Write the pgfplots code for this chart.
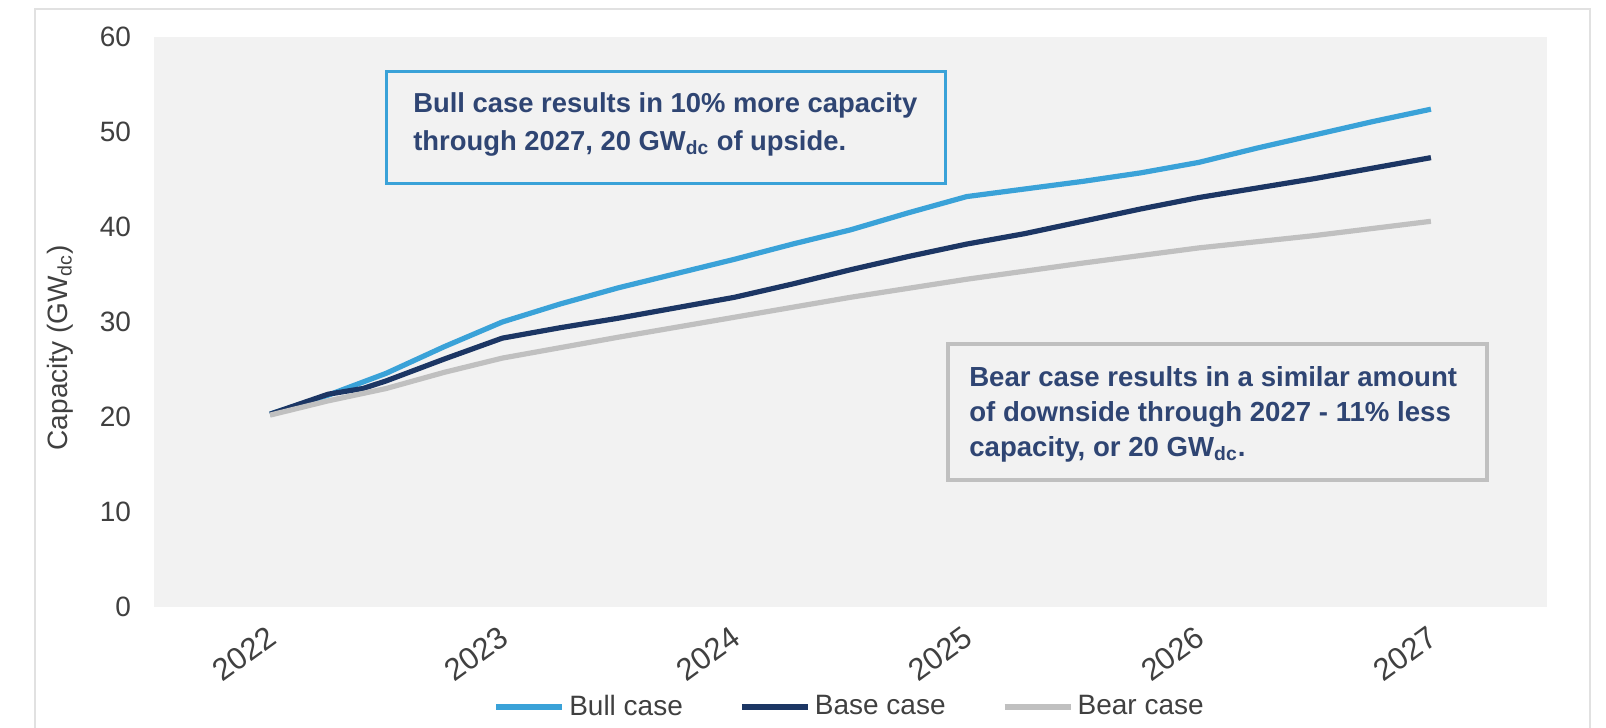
\documentclass[border=0pt]{standalone}
\usepackage{pgfplots}
\pgfplotsset{compat=1.18}
\usepackage{fontspec}
\setmainfont{Liberation Sans}
\definecolor{bullc}{RGB}{58,162,216}
\definecolor{basec}{RGB}{28,54,100}
\definecolor{bearc}{RGB}{192,192,192}
\definecolor{bgc}{RGB}{242,242,242}
\definecolor{tickc}{RGB}{64,64,64}
\definecolor{notec}{RGB}{47,69,115}
\definecolor{framec}{RGB}{225,225,225}
\begin{document}
\begin{tikzpicture}
\useasboundingbox (-77pt,-60.5pt) rectangle (726pt,303.5pt);
\draw[framec, line width=0.8pt] (-59.5pt,-70pt) -- (-59.5pt,299pt) -- (718pt,299pt) -- (718pt,-70pt);
\begin{axis}[
  at={(0pt,0pt)}, anchor=south west,
  scale only axis, width=696.5pt, height=285pt,
  xmin=2021.5, xmax=2027.5, ymin=0, ymax=60,
  axis background/.style={fill=bgc},
  axis line style={draw=none},
  tick style={draw=none},
  xtick={2022,2023,2024,2025,2026,2027},
  ytick={0,10,20,30,40,50,60},
  /pgf/number format/assume math mode=true,
  xticklabel={\pgfmathprintnumber[1000 sep={}]{\tick}},
  xticklabel style={font=\fontsize{15.5}{17}\selectfont, text=tickc, inner sep=0pt, anchor=north east, xshift=-2.3pt, yshift=-8.5pt, rotate=36},
  yticklabel style={font=\fontsize{14}{16}\selectfont, text=tickc, xshift=-8pt},
  ylabel={Capacity (GW\textsubscript{dc})},
  ylabel style={font=\fontsize{14}{16}\selectfont, text=tickc, at={(-47pt,0.455)}, anchor=center, rotate=0},
  legend columns=3,
  legend style={draw=none, fill=none, at={(0.5,-0.175)}, anchor=center,
    font=\fontsize{14}{16}\selectfont, text=tickc,
    /tikz/every even column/.append style={column sep=26pt},
    cells={inner sep=1pt}},
  legend image code/.code={\draw[#1, line width=3pt] (0pt,0pt) -- (33pt,0pt);},
]
\addplot[bullc, line width=2.6pt, line join=round] coordinates {
(2022.0,20.3) (2022.25,22.3) (2022.5,24.6) (2022.75,27.4) (2023.0,30.0)
(2023.25,31.9) (2023.5,33.6) (2023.75,35.1) (2024.0,36.6) (2024.25,38.2)
(2024.5,39.7) (2024.75,41.5) (2025.0,43.2) (2025.25,44.0) (2025.5,44.8)
(2025.75,45.7) (2026.0,46.8) (2026.25,48.3) (2026.5,49.7) (2026.75,51.1)
(2027.0,52.4)};
\addlegendentry{Bull case}
\addplot[basec, line width=2.6pt, line join=round] coordinates {
(2022.0,20.3) (2022.25,22.4) (2022.4,23.0) (2022.5,23.8) (2022.75,26.1)
(2023.0,28.3) (2023.25,29.4) (2023.5,30.4) (2023.75,31.5) (2024.0,32.6)
(2024.25,34.0) (2024.5,35.5) (2024.75,36.9) (2025.0,38.2) (2025.25,39.3)
(2025.5,40.6) (2025.75,41.9) (2026.0,43.1) (2026.25,44.1) (2026.5,45.1)
(2026.75,46.2) (2027.0,47.3)};
\addlegendentry{Base case}
\addplot[bearc, line width=2.6pt, line join=round] coordinates {
(2022.0,20.2) (2022.25,21.7) (2022.5,23.0) (2022.75,24.7) (2023.0,26.2)
(2023.5,28.4) (2024.0,30.5) (2024.5,32.6) (2025.0,34.5) (2025.5,36.2)
(2026.0,37.8) (2026.5,39.1) (2027.0,40.6)};
\addlegendentry{Bear case}
\draw[bullc, line width=1.6pt] (axis cs:2022.5,44.6) rectangle (axis cs:2024.91,56.4);
\node[anchor=west, align=left, text=notec, inner sep=0pt,
  font=\fontsize{13.7}{19}\selectfont\bfseries] at (axis cs:2022.615,50.84)
  {Bull case results in 10\% more capacity\\through 2027, 20 GW\textsubscript{dc} of upside.};
\draw[bearc, line width=2pt] (axis cs:2024.92,13.4) rectangle (axis cs:2027.24,27.7);
\node[anchor=west, align=left, text=notec, inner sep=0pt,
  font=\fontsize{13.8}{17.5}\selectfont\bfseries] at (axis cs:2025.01,20.3)
  {Bear case results in a similar amount\\of downside through 2027 - 11\% less\\capacity, or 20 GW\textsubscript{dc}.};
\end{axis}
\end{tikzpicture}
\end{document}
